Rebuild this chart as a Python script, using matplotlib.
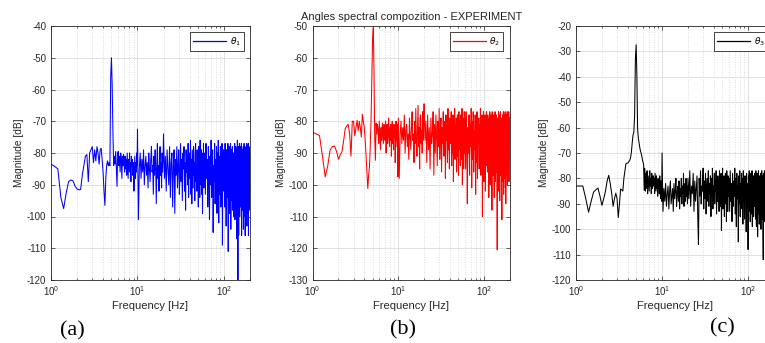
import numpy as np
import matplotlib
matplotlib.use("Agg")
import matplotlib.pyplot as plt
from matplotlib.ticker import LogLocator, MultipleLocator

plt.rcParams['font.family'] = ['Liberation Sans', 'DejaVu Sans']
plt.rcParams['mathtext.fontset'] = 'dejavusans'
plt.rcParams['axes.unicode_minus'] = False

# ---------------- frequency bins [Hz] ----------------
f_low = np.round(np.arange(1.0, 9.95, 0.1), 2)      # 1.0 .. 9.9
f_mid = np.arange(10.0, 19.9, 0.25)                  # 10 .. 19.75
f_hi1 = np.arange(20.0, 59.9, 0.5)                   # 20 .. 59.5
f_hi2 = np.arange(60.0, 199.5, 1.0)                  # 60 .. 199
freq = np.concatenate([f_low, f_mid, f_hi1, f_hi2])

# ---------------- theta_1 magnitude [dB] ----------------
theta1_low = [
    -83.5, -84.2, -85, -94, -97.5, -92.5, -89, -88.5, -88.8, -90.5,
    -91.3, -91.6, -91.5, -87, -84, -81, -80.5, -89, -80, -79,
    -78, -83, -79, -82.5, -78, -80, -83.5, -79, -78.5, -82,
    -86, -92, -96.5, -88, -84, -82.5, -84, -83, -84, -56,
    -50, -59, -73.5, -84, -81, -83.5, -79.5, -85, -90.5, -80,
    -79.5, -84, -81, -86, -80, -82, -88, -81, -84, -80.5,
    -83, -86, -81, -85, -82, -87, -80, -84, -88, -82,
    -85, -80, -86, -83, -89, -81, -84, -82, -87, -83,
    -84, -92, -86, -81, -85, -88, -83, -86, -80, -84]
theta1_mid = [
    -72.5, -101, -85, -80, -88, -82, -86, -79, -90, -84,
    -81, -87, -83, -91, -80, -85, -89, -82, -78, -86,
    -84, -93, -81, -87, -79, -85, -96, -83, -77, -88,
    -84, -92, -82, -78, -87, -83, -91, -80, -86, -82]
theta1_hi1 = [
    -74, -88, -81, -92, -79, -85, -90, -78, -94, -83,
    -80, -97, -84, -79, -99, -82, -87, -78, -91, -84,
    -79, -93, -86, -77, -89, -82, -95, -80, -85, -78,
    -92, -83, -98, -79, -86, -81, -90, -77, -94, -84,
    -80, -88, -76, -93, -82, -96, -79, -85, -91, -78,
    -87, -83, -95, -80, -77, -89, -84, -92, -79, -86,
    -81, -97, -78, -88, -83, -94, -76, -90, -82, -85,
    -79, -93, -84, -99, -80, -87, -77, -91, -83, -88]
theta1_hi2 = [
    -80, -93, -77, -88, -82, -97, -78, -86, -101, -81,
    -90, -76, -94, -83, -79, -105, -84, -89, -77, -96,
    -82, -91, -78, -99, -80, -87, -76, -102, -81, -93,
    -84, -78, -97, -80, -88, -77, -109, -82, -92, -79,
    -86, -83, -97, -77, -90, -80, -103, -79, -94, -82,
    -88, -77, -111, -81, -93, -78, -99, -84, -90, -77,
    -104, -81, -95, -79, -89, -78, -98, -83, -87, -80,
    -100, -80, -92, -77, -101, -82, -90, -78, -96, -80,
    -107, -79, -93, -76, -99, -120, -89, -78, -106, -83,
    -94, -77, -100, -80, -91, -78, -97, -82, -88, -77,
    -106, -81, -93, -79, -98, -80, -87, -78, -104, -82,
    -95, -77, -100, -83, -89, -78, -106, -80, -92, -79,
    -97, -81, -88, -77, -103, -82, -93, -78, -99, -80,
    -90, -77, -106, -81, -94, -78, -98, -83, -87, -79]

# ---------------- theta_2 magnitude [dB] ----------------
theta2_low = [
    -83.5, -84, -84.5, -91, -97.5, -94, -89, -88, -87.8, -89.5,
    -92, -90.5, -89.5, -86, -82.3, -81.5, -81, -84, -91, -80,
    -80, -84.5, -82, -79.7, -83, -80, -82, -85, -77.8, -80,
    -81.8, -86, -90.7, -96, -101.2, -97, -94.5, -88, -80, -68,
    -55, -50.5, -64, -85, -92.3, -80.6, -84, -81, -82.5, -87,
    -80, -85, -89, -82, -86, -80.5, -84, -87, -81, -83,
    -86, -80, -90, -83, -81, -87, -84, -79, -85, -88,
    -82, -86, -81, -91, -84, -80, -87, -83, -89, -81,
    -85, -82, -93, -84, -80, -86, -83, -88, -81, -97.5]
theta2_mid = [
    -79, -98, -84, -80, -87, -82, -86, -78, -90, -83,
    -81, -88, -84, -92, -79, -85, -89, -82, -77, -86,
    -84, -93, -80, -87, -76, -85, -91, -83, -75, -88,
    -82, -95, -79, -78, -87, -83, -90, -77, -86, -81]
theta2_hi1 = [
    -74.5, -86, -80, -93, -78, -89, -82, -95, -79, -87,
    -84, -77, -97, -81, -90, -78, -85, -94, -80, -88,
    -76, -92, -83, -79, -96, -82, -87, -77, -91, -84,
    -80, -98, -78, -86, -83, -93, -76, -89, -81, -95,
    -79, -87, -84, -77, -94, -82, -90, -78, -99, -83,
    -86, -76, -92, -81, -88, -79, -96, -84, -78, -91,
    -82, -97, -77, -89, -85, -80, -94, -78, -87, -83,
    -92, -76, -100, -81, -88, -79, -95, -84, -77, -90]
theta2_hi2 = [
    -79, -95, -77, -88, -106, -82, -90, -78, -97, -81,
    -88, -76, -101, -80, -92, -77, -96, -83, -89, -78,
    -103, -80, -93, -77, -98, -82, -87, -79, -95, -81,
    -91, -76, -97, -81, -88, -78, -110, -79, -93, -77,
    -99, -82, -89, -78, -102, -80, -94, -77, -91, -83,
    -96, -78, -90, -81, -104, -79, -92, -77, -100, -82,
    -89, -78, -95, -80, -108, -77, -93, -81, -97, -79,
    -90, -78, -104, -82, -94, -77, -99, -80, -89, -78,
    -96, -81, -93, -120.5, -79, -98, -82, -91, -77, -102,
    -80, -95, -78, -105, -83, -90, -77, -97, -81, -93,
    -79, -100, -111, -80, -92, -78, -99, -82, -88, -77,
    -103, -81, -94, -78, -98, -80, -89, -77, -101, -82,
    -106, -79, -91, -78, -97, -81, -93, -77, -100, -80,
    -89, -78, -96, -82, -92, -77, -99, -80, -88, -79]

# ---------------- theta_3 magnitude [dB] ----------------
theta3_low = [
    -83, -83, -83, -88, -93.3, -89, -85.4, -84.5, -83.8, -87,
    -90.6, -88, -85, -81, -78.8, -82, -86, -91, -88, -85.8,
    -88, -95.4, -90, -84.2, -84.5, -85, -80, -77, -74.3, -74,
    -74, -73.5, -73, -72, -69.7, -66, -63, -61.8, -55, -33,
    -27.4, -39.5, -60.5, -64, -66, -67.7, -69, -70, -71, -72.5,
    -73.5, -74.3, -84.7, -76, -85, -78, -84, -77, -86, -79,
    -82, -85, -77, -83, -80, -86, -78, -84, -81, -79,
    -83, -80, -86, -78, -82, -85, -79, -84, -81, -87,
    -80, -84, -82, -86, -79, -83, -88, -81, -85, -89]
theta3_mid = [
    -70, -93, -84, -89, -82, -91, -86, -83, -92, -85,
    -81, -90, -87, -84, -93, -82, -88, -85, -80, -91,
    -86, -83, -89, -81, -92, -84, -87, -80, -90, -83,
    -86, -78, -91, -84, -82, -89, -80, -87, -83, -90]
theta3_hi1 = [
    -80, -88, -77, -91, -83, -86, -78, -93, -81, -89,
    -84, -79, -95, -106, -80, -87, -77, -90, -83, -85,
    -76, -92, -81, -88, -78, -94, -84, -80, -89, -77,
    -91, -82, -86, -79, -95, -80, -87, -76, -92, -83,
    -88, -78, -90, -81, -85, -77, -94, -82, -89, -79,
    -86, -80, -93, -77, -88, -83, -91, -78, -100.5, -81,
    -87, -76, -92, -82, -89, -79, -95, -80, -86, -78,
    -90, -83, -97, -77, -88, -81, -93, -79, -87, -80]
theta3_hi2 = [
    -80, -93, -77, -89, -82, -97, -78, -91, -81, -87,
    -76, -94, -80, -99, -78, -88, -83, -105, -79, -90,
    -77, -95, -82, -87, -78, -92, -80, -98, -77, -89,
    -83, -96, -79, -88, -80, -101, -78, -91, -82, -86,
    -108, -79, -93, -77, -89, -81, -97, -78, -90, -80,
    -94, -77, -99, -82, -88, -79, -95, -80, -91, -78,
    -87, -81, -96, -77, -92, -99, -80, -89, -78, -103,
    -82, -90, -77, -94, -80, -98, -79, -88, -81, -93,
    -78, -100, -82, -89, -77, -96, -80, -91, -79, -101,
    -112, -78, -93, -81, -97, -77, -90, -80, -95, -79,
    -88, -82, -105, -78, -92, -80, -98, -77, -89, -81,
    -96, -79, -101, -78, -90, -82, -94, -77, -99, -80,
    -88, -81, -97, -78, -93, -79, -100, -80, -89, -77,
    -95, -82, -91, -78, -98, -80, -88, -77, -103, -79]

theta1 = np.array(theta1_low + theta1_mid + theta1_hi1 + theta1_hi2)
theta2 = np.array(theta2_low + theta2_mid + theta2_hi1 + theta2_hi2)
theta3 = np.array(theta3_low + theta3_mid + theta3_hi1 + theta3_hi2)
assert len(theta1) == len(freq) == len(theta2) == len(theta3), (len(theta1), len(freq), len(theta2), len(theta3))

series = [theta1, theta2, theta3]
labels = [r'$\theta_1$', r'$\theta_2$', r'$\theta_3$']
colors = ['#0000ff', '#ff0000', '#000000']
ylims = [(-120, -40), (-130, -50), (-120, -20)]
panel_tags = ['(a)', '(b)', '(c)']
title_text = 'Angles spectral compozition - EXPERIMENT'

W, H = 765, 343
fig = plt.figure(figsize=(W / 100, H / 100), dpi=100)

# axes boxes in pixels: left, right, top, bottom
boxes = [(51, 250, 26, 280), (312.7, 509.7, 26, 280), (576, 774, 26, 280)]
tag_pos = [(72, 331), (403, 330), (722, 328)]

tick_col = '#262626'
for i, (l, r, t, b) in enumerate(boxes):
    ax = fig.add_axes([l / W, (H - b) / H, (r - l) / W, (b - t) / H])
    ax.plot(freq, series[i], color=colors[i], lw=0.75, label=labels[i])
    ax.set_xscale('log')
    ax.set_xlim(1, 200)
    ax.set_ylim(*ylims[i])
    ax.yaxis.set_major_locator(MultipleLocator(10))
    ax.xaxis.set_major_locator(LogLocator(base=10, numticks=10))
    ax.xaxis.set_minor_locator(LogLocator(base=10, subs=np.arange(2, 10), numticks=20))
    ax.grid(True, which='major', color='#dcdcdc', lw=0.6, ls='-')
    ax.grid(True, which='minor', axis='x', color='#cfcfcf', lw=0.6, ls=(0, (1, 2)))
    ax.set_axisbelow(True)
    for s in ax.spines.values():
        s.set_color(tick_col)
        s.set_linewidth(0.6)
    ax.tick_params(which='both', direction='in', top=True, right=True,
                   colors=tick_col, labelsize=7, width=0.5)
    ax.tick_params(which='major', length=3)
    ax.tick_params(which='minor', length=1.5)
    ax.tick_params(axis='x', pad=3)
    ax.set_xlabel('Frequency [Hz]', fontsize=8, color=tick_col, labelpad=2)
    ax.set_ylabel('Magnitude [dB]', fontsize=7.3, color=tick_col, labelpad=2)
    leg = ax.legend(loc='upper right', fontsize=6.5, frameon=True, fancybox=False,
                    handlelength=3.6, handletextpad=0.4, borderpad=0.35,
                    borderaxespad=0.7, edgecolor='#262626', framealpha=1)
    leg.get_frame().set_linewidth(0.6)
    for h in leg.legend_handles:
        h.set_color(colors[i])
        h.set_linewidth(0.9)
    if i == 1:
        ax.set_title(title_text, fontsize=8, color=tick_col, pad=4)
    fig.text(tag_pos[i][0] / W, (H - tag_pos[i][1]) / H, panel_tags[i],
             ha='center', va='center', fontsize=16,
             family=['Liberation Serif', 'DejaVu Serif'], color='black')

fig.savefig('out.png', dpi=100)
